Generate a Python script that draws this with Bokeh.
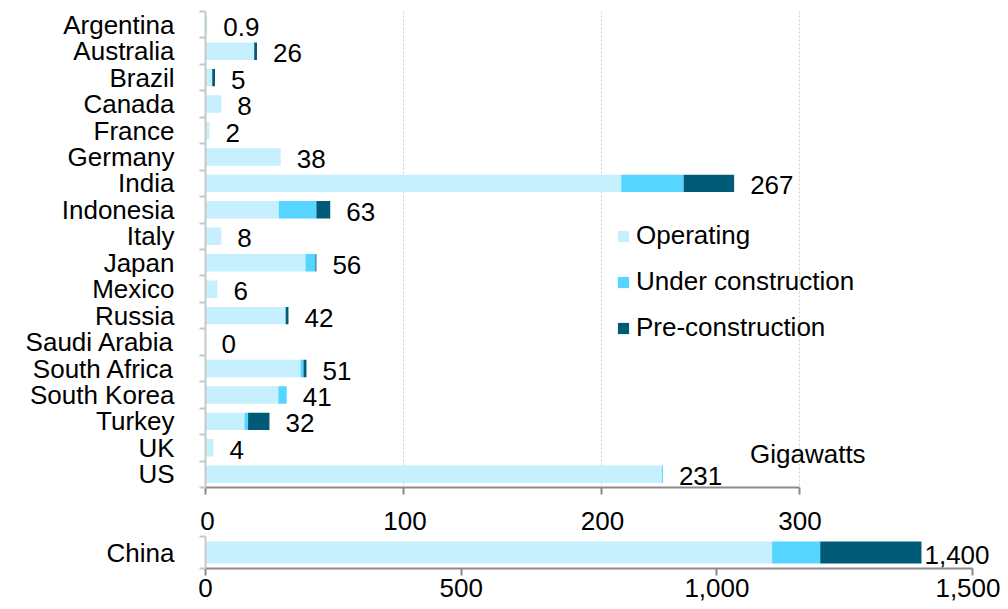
from bokeh.plotting import figure
from bokeh.models import (ColumnDataSource, Range1d, FixedTicker, Legend, LegendItem, Label,
                          LinearAxis)
from bokeh.layouts import column
from bokeh.embed import file_html
from bokeh.resources import INLINE
from bokeh.core.properties import value

# ---- data (gigawatts) ----
countries = ["Argentina", "Australia", "Brazil", "Canada", "France", "Germany", "India",
             "Indonesia", "Italy", "Japan", "Mexico", "Russia", "Saudi Arabia",
             "South Africa", "South Korea", "Turkey", "UK", "US"]
operating = [0.9, 24.6, 3.4, 8, 2, 38, 210, 37, 8, 50.5, 6, 40.5, 0, 48, 36.8, 19.7, 4, 230.5]
under_construction = [0, 0, 0, 0, 0, 0, 31.5, 19, 0, 5, 0, 0, 0, 1.5, 4.2, 1.8, 0, 0.5]
pre_construction = [0, 1.4, 1.4, 0, 0, 0, 25.5, 7, 0, 0.5, 0, 1.4, 0, 1.5, 0, 10.8, 0, 0]
totals_text = ["0.9", "26", "5", "8", "2", "38", "267", "63", "8", "56", "6", "42", "0",
               "51", "41", "32", "4", "231"]
main_ticks = [0, 100, 200, 300]

china_label = ["China"]
china_operating = [1108]
china_under_construction = [94]
china_pre_construction = [198]
china_text = ["1,400"]
china_ticks = [0, 500, 1000, 1500]
china_tick_labels = ["0", "500", "1,000", "1,500"]

series_names = ["Operating", "Under construction", "Pre-construction"]
colors = ["#C6F0FD", "#55D5FF", "#005A78"]

FONT = "Liberation Sans"
FS = "26px"
AXIS_DARK = "#8a8a8a"
AXIS_LIGHT = "#c8c8c8"
W = 1000
LEFT1 = 205
LEFT2 = 203
PX_PER_UNIT_MAIN = 1.98
PX_PER_UNIT_CHINA = 0.5127


def style_y(ax):
    ax.axis_line_color = AXIS_LIGHT
    ax.axis_line_width = 2
    ax.major_tick_line_color = None
    ax.major_tick_out = 0
    ax.major_tick_in = 0
    ax.minor_tick_line_color = AXIS_LIGHT
    ax.minor_tick_line_width = 2
    ax.minor_tick_out = 6
    ax.minor_tick_in = 0
    ax.major_label_standoff = 25
    ax.major_label_text_font = FONT
    ax.major_label_text_font_size = FS
    ax.major_label_text_color = "black"


# ---- main figure ----
n = len(countries)
ypos = list(range(n))
totals = [o + u + p for o, u, p in zip(operating, under_construction, pre_construction)]
src = ColumnDataSource(dict(y=ypos, op=operating, uc=under_construction, pre=pre_construction,
                            tot=totals, txt=totals_text))

p = figure(width=W, height=495, output_backend="svg", toolbar_location=None,
           x_range=Range1d(0, (W - LEFT1) / PX_PER_UNIT_MAIN), y_range=Range1d(n - 0.5, -0.5),
           min_border_left=LEFT1, min_border_right=0, min_border_top=11, min_border_bottom=8)
p.outline_line_color = None
rs = p.hbar_stack(["op", "uc", "pre"], y="y", height=0.66, color=colors, line_color=None, source=src)

p.text(x="tot", y="y", text="txt", source=src, x_offset=16, y_offset=2,
       text_baseline="middle", text_align="left",
       text_font=value(FONT), text_font_size=FS, text_color="black")

# x axis (line and ticks only; its labels are drawn by the axis above the China panel)
p.xaxis.ticker = FixedTicker(ticks=main_ticks)
p.xaxis.bounds = (main_ticks[0], main_ticks[-1])
p.xaxis.major_label_overrides = {t: "" for t in main_ticks}
p.xaxis.axis_line_color = AXIS_DARK
p.xaxis.axis_line_width = 2
p.xaxis.major_tick_line_color = AXIS_DARK
p.xaxis.major_tick_line_width = 2
p.xaxis.major_tick_out = 7
p.xaxis.major_tick_in = 0
p.xaxis.minor_tick_line_color = None
p.xaxis.major_label_standoff = 0
p.xaxis.major_label_text_font_size = "1px"
p.xaxis.major_label_text_color = None

# y axis
p.yaxis.ticker = FixedTicker(ticks=ypos, minor_ticks=[i - 0.5 for i in range(n + 1)])
p.yaxis.major_label_overrides = {i: c for i, c in enumerate(countries)}
style_y(p.yaxis[0])

p.xgrid.ticker = FixedTicker(ticks=main_ticks[1:])
p.xgrid.grid_line_color = "#cfcfcf"
p.xgrid.grid_line_dash = "2 2"
p.xgrid.grid_line_width = 1
p.ygrid.grid_line_color = None

legend = Legend(items=[LegendItem(label=series_names[i], renderers=[rs[i]]) for i in range(3)],
                location=(411, 144), orientation="vertical",
                glyph_width=14, glyph_height=14, label_standoff=6, spacing=15,
                padding=0, margin=0, border_line_color=None, background_fill_alpha=0,
                label_text_font=FONT, label_text_font_size=FS, label_text_color="black")
p.add_layout(legend)

p.add_layout(Label(x=275, y=16.25, text="Gigawatts", text_baseline="middle",
                   text_font=FONT, text_font_size=FS, text_color="black"))

# ---- China figure ----
csrc = ColumnDataSource(dict(y=[0], op=china_operating, uc=china_under_construction,
                             pre=china_pre_construction,
                             tot=[china_operating[0] + china_under_construction[0] + china_pre_construction[0]],
                             txt=china_text))
q = figure(width=W, height=113, output_backend="svg", toolbar_location=None,
           x_range=Range1d(0, (W - LEFT2) / PX_PER_UNIT_CHINA), y_range=Range1d(0.5, -0.5),
           min_border_left=LEFT2, min_border_right=0, min_border_top=41, min_border_bottom=40)
q.outline_line_color = None
q.hbar_stack(["op", "uc", "pre"], y="y", height=0.69, color=colors, line_color=None, source=csrc)
q.text(x="tot", y="y", text="txt", source=csrc, x_offset=3, y_offset=2,
       text_baseline="middle", text_align="left",
       text_font=value(FONT), text_font_size=FS, text_color="black")

bx = q.below[0]
bx.ticker = FixedTicker(ticks=china_ticks)
bx.bounds = (china_ticks[0], china_ticks[-1])
bx.major_label_overrides = {t: s for t, s in zip(china_ticks, china_tick_labels)}
bx.axis_line_color = AXIS_DARK
bx.axis_line_width = 2
bx.major_tick_line_color = AXIS_DARK
bx.major_tick_line_width = 2
bx.major_tick_out = 7
bx.major_tick_in = 0
bx.minor_tick_line_color = None
bx.major_label_standoff = 3
bx.major_label_text_font = FONT
bx.major_label_text_font_size = FS
bx.major_label_text_color = "black"

# labels of the main panel's x axis, aligned to the main scale
start_main = (LEFT2 - LEFT1) / PX_PER_UNIT_MAIN
q.extra_x_ranges = {"main": Range1d(start_main, start_main + (W - LEFT2) / PX_PER_UNIT_MAIN)}
top_ax = LinearAxis(x_range_name="main", ticker=FixedTicker(ticks=main_ticks))
top_ax.axis_line_color = None
top_ax.major_tick_line_color = None
top_ax.minor_tick_line_color = None
top_ax.major_tick_out = 0
top_ax.major_tick_in = 0
top_ax.major_label_standoff = 7
top_ax.major_label_text_font = FONT
top_ax.major_label_text_font_size = FS
top_ax.major_label_text_color = "black"
q.add_layout(top_ax, "above")

q.yaxis.ticker = FixedTicker(ticks=[0], minor_ticks=[-0.5, 0.5])
q.yaxis.major_label_overrides = {0: china_label[0]}
style_y(q.yaxis[0])
q.xgrid.grid_line_color = None
q.ygrid.grid_line_color = None

layout = column(p, q, spacing=0)
open("out.html", "w").write(file_html(layout, INLINE))
